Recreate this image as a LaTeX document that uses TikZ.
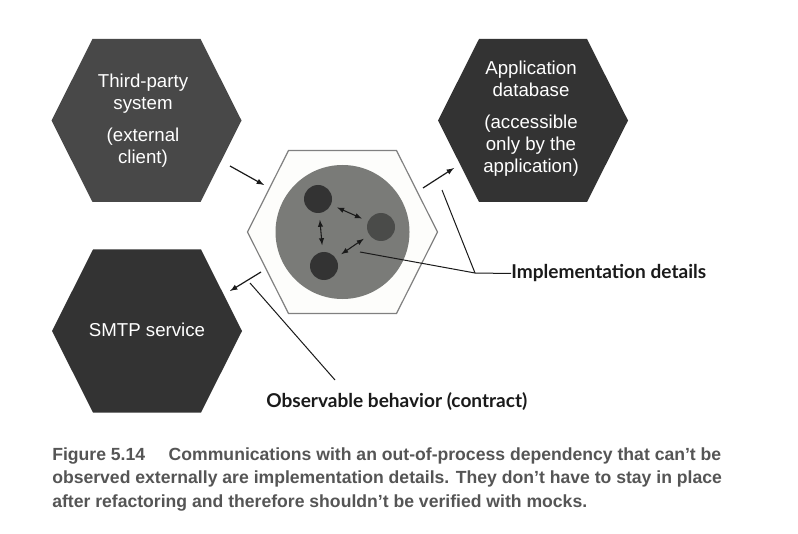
\documentclass[tikz,border=0pt]{standalone}
\usepackage{fontspec}
\usepackage{xcolor}
\usepackage{tikz}
\usetikzlibrary{positioning, arrows}
\setmainfont{Liberation Sans}
\newfontfamily\calloutfont{Lato}
\newfontfamily\captionfont{Liberation Sans}
\definecolor{extgray}{RGB}{72, 72, 72}
\definecolor{depdark}{RGB}{51, 51, 51}
\definecolor{corefill}{RGB}{253, 253, 251}
\definecolor{coreline}{RGB}{128, 128, 128}
\definecolor{domain}{RGB}{122, 123, 120}
\definecolor{classmid}{RGB}{74, 75, 73}
\definecolor{captiongray}{RGB}{85, 85, 85}
\definecolor{ink}{RGB}{26, 26, 26}

% hexagon outline, relative to its centre
\newcommand{\hexshape}{+(-95,0) -- +(-54,-81.5) -- +(54,-81.5) -- +(95,0) -- +(54,81.5) -- +(-54,81.5) -- cycle}

\begin{document}
\begin{tikzpicture}[
        x=0.75pt, y=-0.75pt,
        hexbox/.style={fill=#1, draw=none},
        hextext/.style={text=white, align=center, inner sep=0pt, font=\fontsize{14}{16.5}\selectfont},
        unit/.style={circle, fill=#1, minimum size=21pt, inner sep=0pt},
        flow/.style={-latex, line width=0.9pt, ink},
        link/.style={latex-latex, line width=0.8pt, ink, shorten <=5pt, shorten >=5pt},
        leader/.style={line width=0.75pt, ink},
        callout/.style={inner sep=0pt, anchor=west, text=ink, font=\calloutfont\bfseries\fontsize{14.3}{17}\selectfont}
    ]
        \fill[white] (0,0) rectangle (798,534);
        \useasboundingbox (0,0) rectangle (798,534);

        % the four hexagons
        \path[hexbox=extgray] (146.5,120.5) \hexshape;
        \path[hexbox=depdark] (533,120.5) \hexshape;
        \path[hexbox=depdark] (147,331) \hexshape;
        \draw[fill=corefill, draw=coreline, line width=0.9pt] (342.5,232) \hexshape;

        \node (thirdparty) [hextext] at (143,120.5) {Third-party\\ system\\[7.5pt] (external\\ client)};
        \node (appdb) [hextext] at (531,119) {Application\\ database\\[7.5pt] (accessible\\ only by the\\ application)};
        \node (smtp) [hextext] at (147,330) {SMTP service};

        % application core
        \node (core) [circle, fill=domain, minimum size=100.5pt, inner sep=0pt] at (342.5,232) {};
        \node (unita) [unit=depdark] at (318,199) {};
        \node (unitb) [unit=classmid] at (381,227) {};
        \node (unitc) [unit=depdark] at (324,266) {};

        \draw[link] (unita) -- (unitb);
        \draw[link] (unita) -- (unitc);
        \draw[link] (unitb) -- (unitc);

        % communications with the outside
        \coordinate (inA) at (230,166);
        \coordinate (inB) at (264,185);
        \coordinate (dbA) at (423,188);
        \coordinate (dbB) at (454,168);
        \coordinate (mailA) at (261,272);
        \coordinate (mailB) at (230,291);
        \draw[flow] (inA) -- (inB);
        \draw[flow] (dbA) -- (dbB);
        \draw[flow] (mailA) -- (mailB);

        % callouts
        \node (impl) [callout] at (511,273.5) {Implementation details};
        \node (obs) [callout] at (266,402) {Observable behavior (contract)};

        \coordinate (implJoint) at (475,273);
        \coordinate (implDb) at (442,190);
        \coordinate (implCore) at (360,252);
        \draw[leader] (implDb) -- (implJoint) -- (impl.west);
        \draw[leader] (implCore) -- (implJoint);

        \coordinate (obsA) at (250,283);
        \coordinate (obsB) at (335,380);
        \draw[leader] (obsA) -- (obsB);

        \node (caption) [anchor=base west, align=left, inner sep=0pt, text=captiongray,
            font=\captionfont\bfseries\fontsize{13.2}{17.6}\selectfont] at (52,507)
            {Figure 5.14\hspace*{14pt} Communications with an out-of-process dependency that can’t be\\
             observed externally are implementation details. They don’t have to stay in place\\
             after refactoring and therefore shouldn’t be verified with mocks.};
    \end{tikzpicture}
\end{document}
